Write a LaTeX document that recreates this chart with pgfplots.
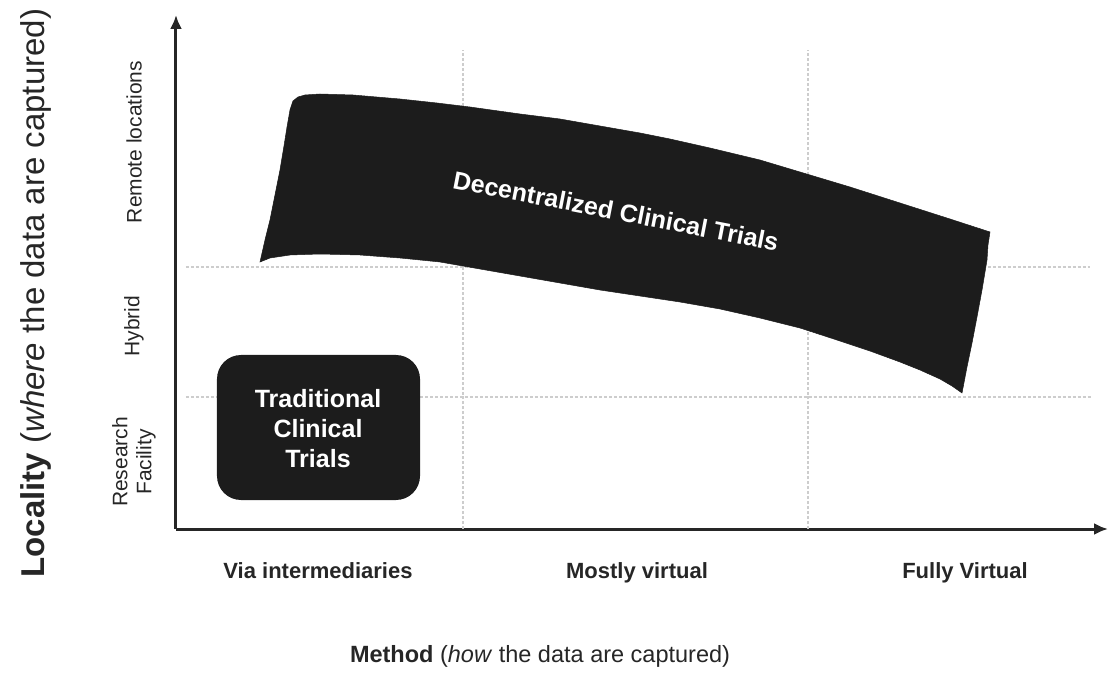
\documentclass[border=0pt]{standalone}
\usepackage{fontspec}
\setmainfont{Liberation Sans}
\usepackage{pgfplots}
\pgfplotsset{compat=1.18}
\usetikzlibrary{arrows.meta}
\definecolor{ink}{HTML}{1C1C1C}
\definecolor{txt}{HTML}{262626}
\definecolor{gridc}{HTML}{CDCDCD}
\begin{document}
\begin{tikzpicture}
\begin{axis}[
  scale only axis, width=932bp, height=514bp,
  xmin=176, xmax=1108, ymin=147, ymax=661,
  axis lines=left,
  axis line style={line width=3bp, draw=txt, -{Latex[length=14bp,width=12bp]}},
  clip=false,
  xtick={318,637,965},
  xticklabels={Via intermediaries, Mostly virtual, Fully Virtual},
  ytick={214,350,534},
  yticklabels={{Research\\Facility}, Hybrid, Remote locations},
  major tick length=0pt,
  xticklabel style={font=\fontsize{22bp}{26bp}\selectfont\bfseries, text=txt, anchor=base, yshift=-49bp},
  yticklabel style={xshift=-42bp, font=\fontsize{21bp}{24bp}\selectfont, text=txt, rotate=90, anchor=center, align=center},
  xlabel={\textbf{Method} (\textit{how} the data are captured)},
  xlabel style={font=\fontsize{23.5bp}{28bp}\selectfont, text=txt, at={(axis description cs:0.3906,-0.2588)}, anchor=base},
  ylabel={\textbf{Locality} (\textit{where} the data are captured)},
  ylabel style={font=\fontsize{33bp}{38bp}\selectfont, text=txt, at={(axis description cs:-0.1406,0.459)}, anchor=base, rotate=0},
]
% grid lines
\addplot[gridc, densely dashed, line width=1.3bp, forget plot] coordinates {(463,147) (463,626)};
\addplot[gridc, densely dashed, line width=1.3bp, forget plot] coordinates {(808,147) (808,626)};
\addplot[gridc, densely dashed, line width=1.3bp, forget plot] coordinates {(186,409) (1090,409)};
\addplot[gridc, densely dashed, line width=1.3bp, forget plot] coordinates {(186,279) (1092,279)};
% decentralized band
\addplot[fill=ink, draw=ink, line width=0.5bp] coordinates {
(260,414) (265,436) (270,456) (275,481) (280,506) (284,530) (287,549) (290,566) (293,575) (298,579) (305,581) (320,582) (353,581) (400,577) (437,573) (470,569) (520,562) (560,557) (600,550) (640,543) (670,537) (710,528) (760,516) (800,504) (850,489) (900,473) (950,457) (990,444)
(988,431) (987,416) (982,386) (977,359) (972,333) (967,309) (962,283)
(952,290) (940,297) (920,306) (900,314) (870,325) (840,335) (800,348) (760,358) (720,367) (680,374) (640,380) (600,386) (560,393) (520,400) (480,407) (440,414) (400,418) (360,421) (320,422) (290,421) (270,418)
} -- cycle;
\node[rotate=-11, text=white, font=\fontsize{25bp}{28bp}\selectfont\bfseries, inner sep=0pt] at (axis cs:616,465) {Decentralized Clinical Trials};
% traditional box
\addplot[fill=ink, draw=none, rounded corners=24bp] coordinates {(217,176) (420,176) (420,321) (217,321)} -- cycle;
\node[align=center, text=white, font=\fontsize{25bp}{30bp}\selectfont\bfseries] at (axis cs:318,247) {Traditional\\Clinical\\Trials};
\end{axis}
\pgfresetboundingbox
\path (-176bp,-147bp) rectangle (933bp,529bp);
\end{tikzpicture}
\end{document}
